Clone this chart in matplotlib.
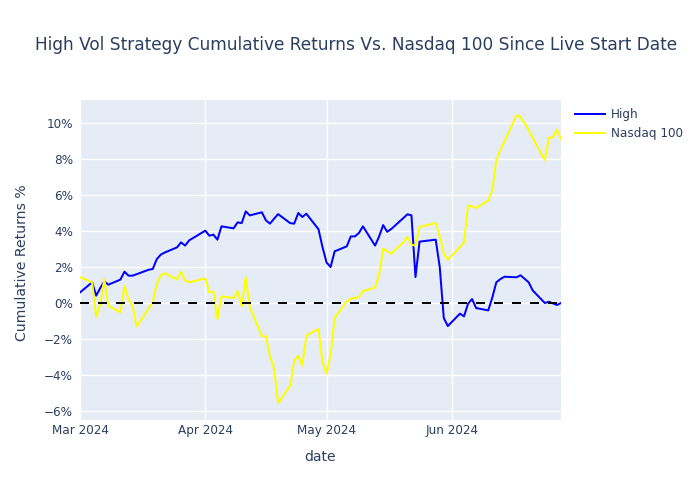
import pandas as pd
import matplotlib
matplotlib.use("Agg")
import matplotlib.pyplot as plt
import matplotlib.dates as mdates
from matplotlib.ticker import FuncFormatter

plt.rcParams['font.family'] = ['DejaVu Sans']

TXT = "#2a3f5f"

# trading days since live start (market holidays removed)
holidays = ["2024-03-29", "2024-05-27", "2024-06-19"]
dates = pd.bdate_range("2024-03-01", "2024-06-28")
dates = dates[~dates.isin(pd.to_datetime(holidays))]

# cumulative returns in %
high = [
    # March
    0.59, 1.15, 0.41, 0.83, 1.20, 1.02, 1.30, 1.74, 1.52, 1.52,
    1.60, 1.85, 1.89, 2.44, 2.69, 2.81, 3.09, 3.37, 3.19, 3.48,
    # April
    4.02, 3.74, 3.80, 3.52, 4.26, 4.15, 4.48, 4.44, 5.09, 4.87, 5.04,
    4.59, 4.41, 4.68, 4.94, 4.44, 4.41, 5.00, 4.78, 4.96, 4.10, 3.10,
    # May
    2.25, 2.00, 2.87, 3.15, 3.70, 3.70, 3.89, 4.26, 3.19, 3.70, 4.33,
    3.96, 4.11, 4.72, 4.93, 4.87, 1.44, 3.41, 3.52, 2.00, -0.83, -1.28,
    # June
    -0.59, -0.74, -0.04, 0.22, -0.28, -0.41, 0.30, 1.15, 1.33, 1.46,
    1.43, 1.54, 1.15, 0.70, 0.00, 0.07, -0.02, -0.11, 0.00,
]
nasdaq = [
    # March
    1.44, 1.15, -0.78, -0.09, 1.33, -0.15, -0.52, 0.96, 0.19, -0.15,
    -1.30, -0.31, 0.04, 1.07, 1.54, 1.65, 1.30, 1.74, 1.26, 1.15,
    # April
    1.37, 0.59, 0.65, -0.89, 0.37, 0.28, 0.65, -0.19, 1.43, -0.22, -1.85,
    -1.85, -2.96, -3.61, -5.56, -4.59, -3.19, -2.93, -3.48, -1.81, -1.44, -3.30,
    # May
    -3.93, -2.87, -0.83, 0.09, 0.24, 0.28, 0.33, 0.65, 0.87, 1.57, 3.02,
    2.87, 2.74, 3.37, 3.67, 3.24, 3.19, 4.22, 4.44, 3.70, 2.74, 2.41,
    # June
    3.11, 3.37, 5.41, 5.37, 5.28, 5.70, 6.26, 7.93, 8.52, 8.98,
    10.43, 10.33, 9.63, 9.17, 7.93, 9.17, 9.22, 9.63, 9.11,
]

month_ticks = pd.to_datetime(["2024-03-01", "2024-04-01", "2024-05-01", "2024-06-01"])
y_ticks = [-6, -4, -2, 0, 2, 4, 6, 8, 10]

fig = plt.figure(figsize=(7, 5), dpi=100)
ax = fig.add_axes([80 / 700, 1 - 420 / 500, 481 / 700, 320 / 500])
ax.set_facecolor("#E5ECF6")
for s in ax.spines.values():
    s.set_visible(False)

ax.plot(dates, high, color="blue", lw=1.44, label="High")
ax.plot(dates, nasdaq, color="yellow", lw=1.44, label="Nasdaq 100")
ax.axhline(0, color="black", lw=1.44, dashes=(4.5, 4.5), zorder=5)

ax.set_xlim(dates[0], dates[-1])
ax.set_ylim(-6.5, 11.28)
ax.set_xticks(month_ticks)
ax.xaxis.set_major_formatter(mdates.DateFormatter("%b %Y"))
ax.set_yticks(y_ticks)
ax.yaxis.set_major_formatter(FuncFormatter(lambda v, p: f"{v:.0f}%".replace("-", "\u2212")))
ax.grid(True, color="white", lw=1)
ax.set_axisbelow(True)
ax.tick_params(length=0, labelsize=8.64, labelcolor=TXT)
ax.tick_params(axis="x", pad=3)
ax.tick_params(axis="y", pad=5)

fig.text(0.05, 1 - 45 / 500, "High Vol Strategy Cumulative Returns Vs. Nasdaq 100 Since Live Start Date",
         fontsize=12.24, color=TXT, va="center", ha="left")
fig.text(320.5 / 700, 1 - 457 / 500, "date", fontsize=10.08, color=TXT, ha="center", va="center")
fig.text(22 / 700, 1 - 263 / 500, "Cumulative Returns %", fontsize=10.08, color=TXT,
         rotation=90, ha="center", va="center")

leg = ax.legend(loc="upper left", bbox_to_anchor=(575 / 700, 1 - 108 / 500),
                bbox_transform=fig.transFigure, frameon=False, fontsize=8.64,
                handlelength=2.5, handletextpad=0.5, labelspacing=0.5, borderpad=0,
                borderaxespad=0)
for t in leg.get_texts():
    t.set_color(TXT)

fig.savefig("out.png", dpi=100)
